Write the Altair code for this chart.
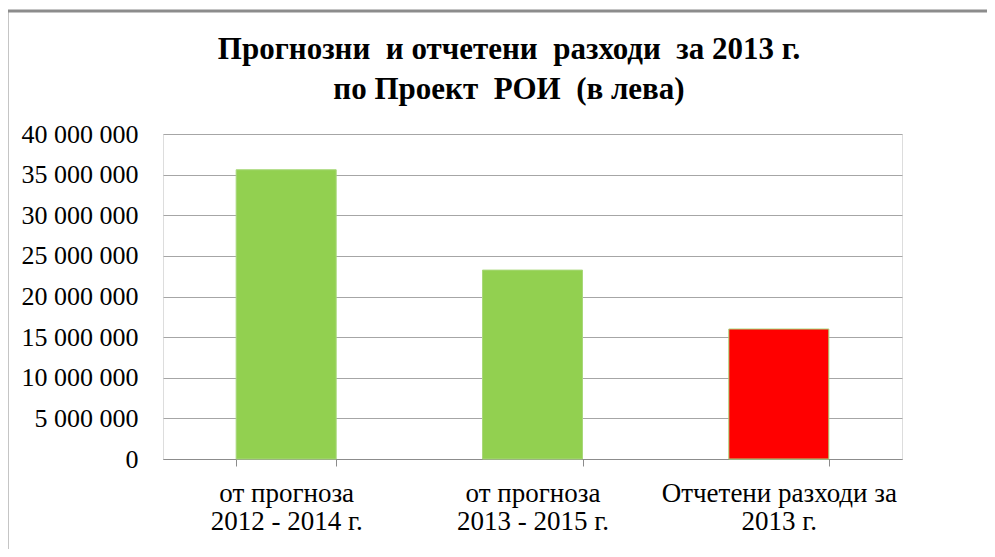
import altair as alt
import pandas as pd

categories = ["от прогноза|2012 - 2014 г.", "от прогноза|2013 - 2015 г.", "Отчетени разходи за|2013 г."]
values = [35600000, 23250000, 16000000]
kinds = ["forecast", "forecast", "actual"]
y_ticks = [0, 5000000, 10000000, 15000000, 20000000, 25000000, 30000000, 35000000, 40000000]
title_text = ["Прогнозни \u00a0и отчетени \u00a0разходи \u00a0за 2013 г.|по Проект \u00a0РОИ \u00a0(в лева)"]

df = pd.DataFrame({"cat": categories, "value": values, "kind": kinds})

FONT = "Liberation Serif"

bars = alt.Chart(df).mark_bar(stroke="#a8d87a", strokeWidth=1).encode(
    x=alt.X("cat:N", sort=categories, title=None,
            scale=alt.Scale(paddingInner=0.594, paddingOuter=0.297),
            axis=alt.Axis(labelExpr="isValid(datum.value) ? split(datum.value, '|') : ''",
                          labelAngle=0, labelLimit=400,
                          labelFont=FONT, labelFontSize=27, labelColor="black",
                          labelLineHeight=28, labelPadding=14,
                          tickBand="extent", ticks=True, tickSize=7,
                          tickColor="#8c8c8c", domainColor="#8c8c8c",
                          grid=False)),
    y=alt.Y("value:Q", title=None,
            scale=alt.Scale(domain=[0, 40000000], nice=False),
            axis=alt.Axis(values=y_ticks, format=",d", labelFont=FONT, labelFontSize=26,
                          labelColor="black", labelPadding=25, ticks=False, domain=False,
                          grid=True, gridColor="#a6a6a6", gridWidth=1)),
    color=alt.Color("kind:N", scale=alt.Scale(domain=["forecast", "actual"],
                                               range=["#92D050", "#FF0000"]), legend=None),
)

title = alt.Chart(pd.DataFrame({"t": title_text})).mark_text(
    font=FONT, fontSize=31, fontWeight="bold", color="black",
    align="center", baseline="alphabetic", lineBreak="|", lineHeight=40,
).encode(text="t:N", x=alt.value(346), y=alt.value(-75))

frame = alt.Chart(pd.DataFrame({"a": [0]})).mark_rect(
    fill=None, stroke="#8c8c8c", strokeWidth=3
).encode(x=alt.value(-156), x2=alt.value(1000), y=alt.value(-123), y2=alt.value(600))

chart = alt.layer(bars, title, frame).properties(
    width=739, height=325,
    autosize=alt.AutoSizeParams(type="none"),
    padding={"left": 155, "top": 126, "right": 85, "bottom": 90},
).configure_view(stroke=None).configure(
    locale={"number": {"decimal": ",", "thousands": " ", "grouping": [3], "currency": ["", ""]}}
)

chart.save("out.html", embed_options={"renderer": "svg", "actions": False})
